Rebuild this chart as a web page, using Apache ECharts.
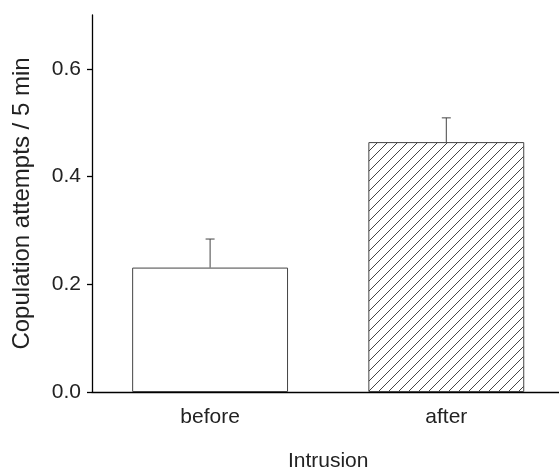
<!DOCTYPE html>
<html>
<head>
<meta charset="utf-8">
<script src="https://cdn.jsdelivr.net/npm/echarts@6/dist/echarts.min.js"></script>
<style>html,body{margin:0;padding:0;background:#fff}#c{width:559px;height:469px}</style>
</head>
<body>
<div id="c"></div>
<script>
const categories = ['before', 'after'];
const means = [0.231, 0.464];
const errors = [0.053, 0.045];
const yTicks = [0, 0.2, 0.4, 0.6];
const xAxisTitle = 'Intrusion';
const yAxisTitle = 'Copulation attempts / 5 min';

function hatch() {
  const s = 10;
  const c = document.createElement('canvas');
  c.width = s; c.height = s;
  const g = c.getContext('2d');
  g.fillStyle = '#fff';
  g.fillRect(0, 0, s, s);
  g.strokeStyle = '#444';
  g.lineWidth = 1;
  g.beginPath();
  g.moveTo(0, s); g.lineTo(s, 0);
  g.moveTo(-1, 1); g.lineTo(1, -1);
  g.moveTo(s - 1, s + 1); g.lineTo(s + 1, s - 1);
  g.stroke();
  return c;
}

const font = "'Liberation Sans', Arial, Helvetica, sans-serif";
const chart = echarts.init(document.getElementById('c'), null, {renderer: 'canvas'});
const fills = ['#ffffff', {image: hatch(), repeat: 'repeat'}];

chart.setOption({
  animation: false,
  backgroundColor: '#fff',
  grid: {left: 92, top: 15, width: 472.4, height: 377, outerBoundsMode: 'none', containLabel: false},
  xAxis: {
    type: 'category',
    data: categories,
    name: xAxisTitle,
    nameLocation: 'middle',
    nameGap: 59,
    nameTextStyle: {fontFamily: font, fontSize: 21, color: '#222'},
    axisLine: {lineStyle: {color: '#000', width: 1.3}},
    axisTick: {show: false},
    axisLabel: {fontFamily: font, fontSize: 21, color: '#222', margin: 15}
  },
  yAxis: {
    type: 'value',
    min: 0, max: 0.7, interval: 0.2,
    name: yAxisTitle,
    nameLocation: 'middle',
    nameGap: 58,
    nameTextStyle: {fontFamily: font, fontSize: 24, color: '#222'},
    axisLine: {show: true, lineStyle: {color: '#000', width: 1.3}},
    axisTick: {show: true, length: 5, customValues: yTicks, lineStyle: {color: '#000', width: 1.3}},
    splitLine: {show: false},
    axisLabel: {fontFamily: font, fontSize: 21, color: '#222', margin: 11, customValues: yTicks,
      formatter: v => v.toFixed(1)}
  },
  series: [
    {
      type: 'bar',
      barWidth: '66%',
      data: means.map((v, i) => ({value: v, itemStyle: {color: fills[i], borderColor: '#444', borderWidth: 1}})),
      z: 2
    },
    {
      type: 'custom',
      z: 3,
      data: categories.map((c, i) => [i, means[i], errors[i]]),
      encode: {x: 0, y: 1},
      renderItem: function (params, api) {
        const x = api.value(0), m = api.value(1), e = api.value(2);
        const base = api.coord([x, m]);
        const top = api.coord([x, m + e]);
        const st = {stroke: '#444', lineWidth: 1};
        return {
          type: 'group',
          children: [
            {type: 'line', shape: {x1: base[0], y1: base[1], x2: top[0], y2: top[1]}, style: st},
            {type: 'line', shape: {x1: top[0] - 4.5, y1: top[1], x2: top[0] + 4.5, y2: top[1]}, style: st}
          ]
        };
      }
    }
  ]
});
</script>
</body>
</html>
